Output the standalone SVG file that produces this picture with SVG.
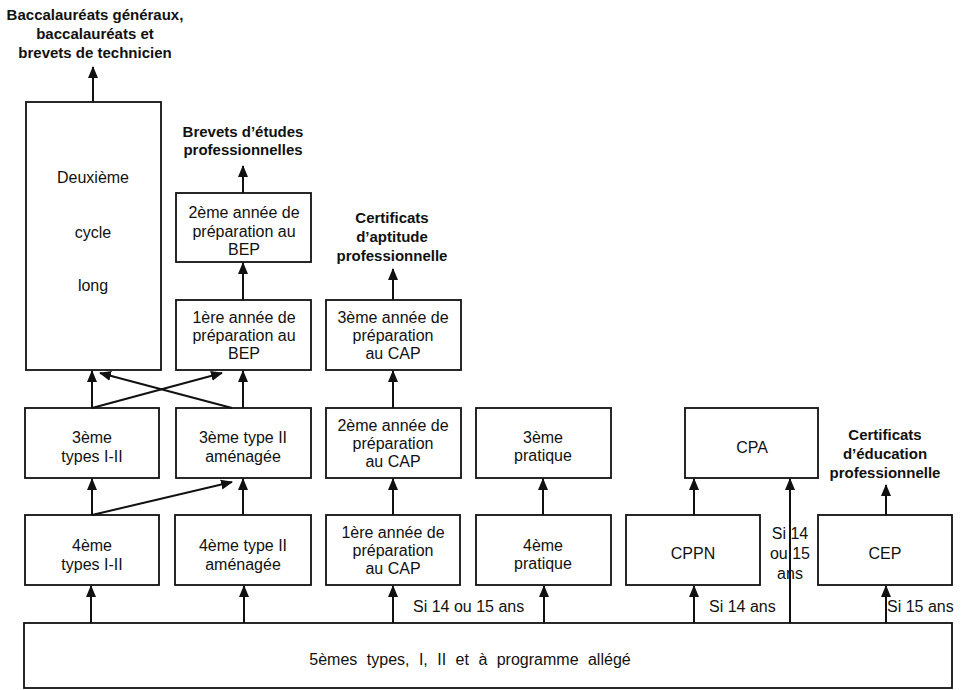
<svg xmlns="http://www.w3.org/2000/svg" width="962" height="690" viewBox="0 0 962 690">
<style>
  .box { fill: #fff; stroke: #111; stroke-width: 1.8; }
  .t { font-family: "Liberation Sans", Arial, sans-serif; font-size: 16px; fill: #111; text-anchor: middle; }
  .lbl { font-family: "Liberation Sans", Arial, sans-serif; font-size: 15px; font-weight: bold; fill: #111; text-anchor: middle; }
  .cond { font-family: "Liberation Sans", Arial, sans-serif; font-size: 16px; fill: #111; }
  .c { stroke: #111; stroke-width: 2; fill: none; marker-end: url(#ah); }
  .ln { stroke: #111; stroke-width: 2; fill: none; }
</style>
<defs>
  <marker id="ah" markerUnits="userSpaceOnUse" markerWidth="12" markerHeight="12" viewBox="0 0 12 10" refX="11" refY="5" orient="auto">
    <path d="M0,0 L12,5 L0,10 z" fill="#111"/>
  </marker>
</defs>
<rect width="962" height="690" fill="#fff"/>

<g id="labels">
  <text class="lbl" x="95" y="20">Baccalauréats généraux,</text>
  <text class="lbl" x="95" y="39">baccalauréats et</text>
  <text class="lbl" x="95" y="58">brevets de technicien</text>
  <text class="lbl" x="243" y="137">Brevets d’études</text>
  <text class="lbl" x="243" y="155">professionnelles</text>
  <text class="lbl" x="392" y="223">Certificats</text>
  <text class="lbl" x="392" y="242">d’aptitude</text>
  <text class="lbl" x="392" y="261">professionnelle</text>
  <text class="lbl" x="885" y="440">Certificats</text>
  <text class="lbl" x="885" y="459">d’éducation</text>
  <text class="lbl" x="885" y="478">professionnelle</text>
</g>

<g id="n-deuxieme">
  <rect class="box" x="26" y="102" width="135" height="268"/>
  <text class="t" x="93" y="183">Deuxième</text>
  <text class="t" x="93" y="238">cycle</text>
  <text class="t" x="93" y="291">long</text>
</g>
<g id="n-bep2">
  <rect class="box" x="176" y="193" width="135" height="69"/>
  <text class="t" x="244" y="218">2ème année de</text>
  <text class="t" x="244" y="237">préparation au</text>
  <text class="t" x="244" y="255">BEP</text>
</g>
<g id="n-bep1">
  <rect class="box" x="176" y="300" width="135" height="70"/>
  <text class="t" x="244" y="323">1ère année de</text>
  <text class="t" x="244" y="341">préparation au</text>
  <text class="t" x="244" y="359">BEP</text>
</g>
<g id="n-cap3">
  <rect class="box" x="326" y="300" width="135" height="70"/>
  <text class="t" x="393" y="323">3ème année de</text>
  <text class="t" x="393" y="341">préparation</text>
  <text class="t" x="393" y="359">au CAP</text>
</g>
<g id="n-3types">
  <rect class="box" x="25" y="408" width="134" height="70"/>
  <text class="t" x="92" y="443">3ème</text>
  <text class="t" x="92" y="462">types I-II</text>
</g>
<g id="n-3typeII">
  <rect class="box" x="176" y="408" width="135" height="70"/>
  <text class="t" x="243" y="443">3ème type II</text>
  <text class="t" x="243" y="462">aménagée</text>
</g>
<g id="n-cap2">
  <rect class="box" x="326" y="408" width="135" height="70"/>
  <text class="t" x="393" y="431">2ème année de</text>
  <text class="t" x="393" y="449">préparation</text>
  <text class="t" x="393" y="467">au CAP</text>
</g>
<g id="n-3pratique">
  <rect class="box" x="476" y="408" width="135" height="70"/>
  <text class="t" x="543" y="443">3ème</text>
  <text class="t" x="543" y="461">pratique</text>
</g>
<g id="n-cpa">
  <rect class="box" x="685" y="408" width="133" height="70"/>
  <text class="t" x="752" y="453">CPA</text>
</g>
<g id="n-4types">
  <rect class="box" x="25" y="515" width="134" height="70"/>
  <text class="t" x="92" y="551">4ème</text>
  <text class="t" x="92" y="570">types I-II</text>
</g>
<g id="n-4typeII">
  <rect class="box" x="175" y="515" width="136" height="70"/>
  <text class="t" x="243" y="551">4ème type II</text>
  <text class="t" x="243" y="570">aménagée</text>
</g>
<g id="n-cap1">
  <rect class="box" x="326" y="515" width="134" height="70"/>
  <text class="t" x="393" y="538">1ère année de</text>
  <text class="t" x="393" y="556">préparation</text>
  <text class="t" x="393" y="574">au CAP</text>
</g>
<g id="n-4pratique">
  <rect class="box" x="476" y="515" width="135" height="70"/>
  <text class="t" x="543" y="551">4ème</text>
  <text class="t" x="543" y="569">pratique</text>
</g>
<g id="n-cppn">
  <rect class="box" x="626" y="515" width="134" height="70"/>
  <text class="t" x="693" y="559">CPPN</text>
</g>
<g id="n-cep">
  <rect class="box" x="818" y="515" width="134" height="70"/>
  <text class="t" x="885" y="559">CEP</text>
</g>
<g id="n-5emes">
  <rect class="box" x="24" y="623" width="928" height="65"/>
  <text class="t" x="470" y="665" word-spacing="5">5èmes types, I, II et à programme allégé</text>
</g>

<g id="connectors">
  <line class="c" x1="93" y1="102" x2="93" y2="67"/>
  <line class="c" x1="243" y1="193" x2="243" y2="166"/>
  <line class="c" x1="243" y1="300" x2="243" y2="263"/>
  <line class="c" x1="393" y1="300" x2="393" y2="269"/>
  <line class="c" x1="92" y1="408" x2="92" y2="371"/>
  <line class="c" x1="92" y1="408" x2="222" y2="373"/>
  <line class="c" x1="232" y1="408" x2="100" y2="373"/>
  <line class="c" x1="243" y1="408" x2="243" y2="371"/>
  <line class="c" x1="393" y1="408" x2="393" y2="371"/>
  <line class="c" x1="92" y1="515" x2="92" y2="479"/>
  <line class="c" x1="92" y1="515" x2="232" y2="482"/>
  <line class="c" x1="243" y1="515" x2="243" y2="479"/>
  <line class="c" x1="393" y1="515" x2="393" y2="479"/>
  <line class="c" x1="543" y1="515" x2="543" y2="479"/>
  <line class="c" x1="694" y1="515" x2="694" y2="479"/>
  <line class="c" x1="886" y1="515" x2="886" y2="485"/>
  <line class="c" x1="91" y1="623" x2="91" y2="586"/>
  <line class="c" x1="244" y1="623" x2="244" y2="586"/>
  <line class="c" x1="393" y1="623" x2="393" y2="586"/>
  <line class="c" x1="544" y1="623" x2="544" y2="586"/>
  <line class="c" x1="694" y1="623" x2="694" y2="586"/>
  <line class="c" x1="790" y1="623" x2="790" y2="479"/>
  <line class="c" x1="886" y1="623" x2="886" y2="586"/>
</g>

<g id="conditions">
  <text class="cond" x="413" y="612">Si 14 ou 15 ans</text>
  <text class="cond" x="709" y="612">Si 14 ans</text>
  <text class="cond" x="887" y="612">Si 15 ans</text>
  <text class="t" x="790" y="539">Si 14</text>
  <text class="t" x="790" y="559">ou 15</text>
  <text class="t" x="790" y="579">ans</text>
</g>
</svg>
